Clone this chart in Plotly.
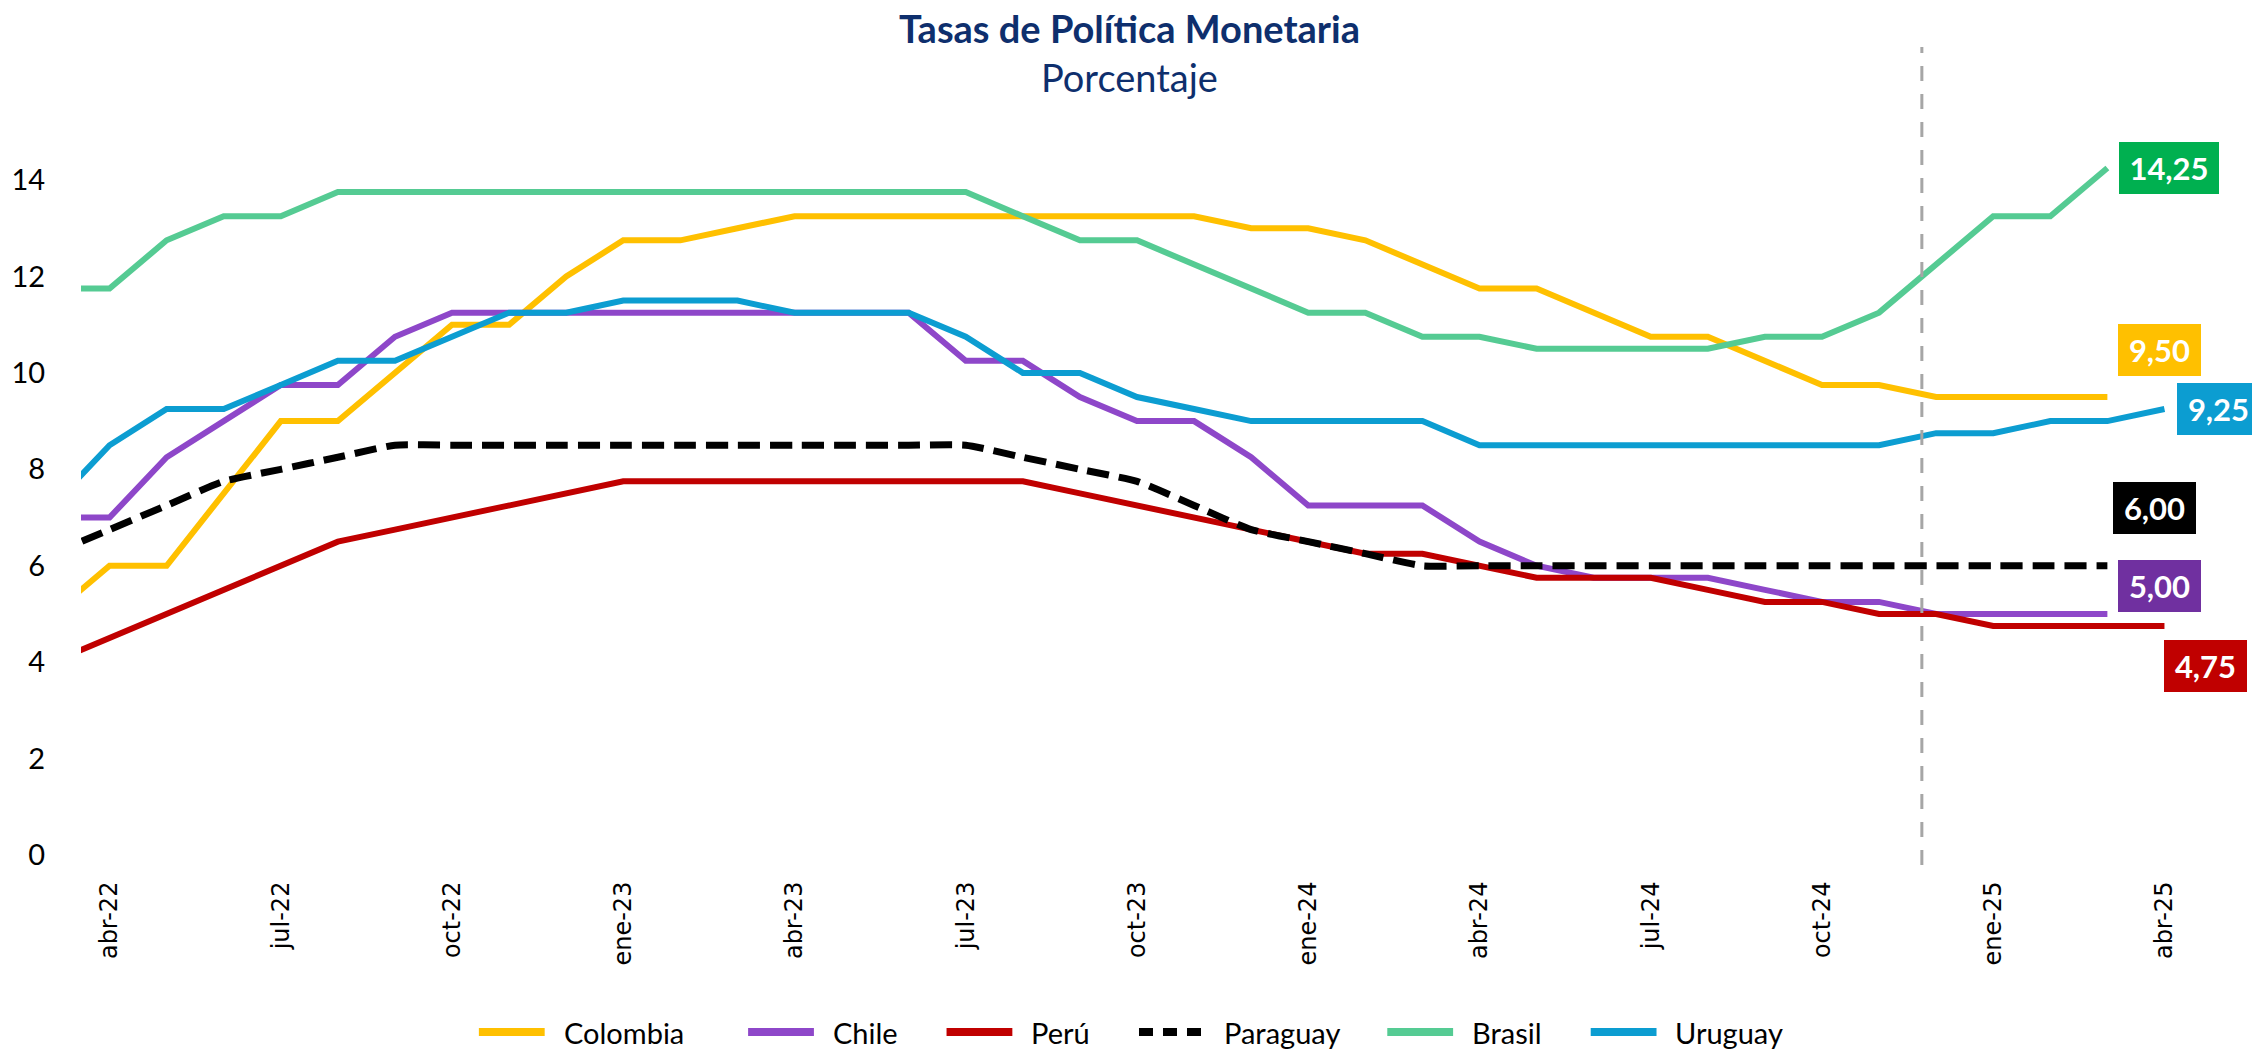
import plotly.graph_objects as go

# ---------------- DATA ----------------
months = ["mar-22", "abr-22", "may-22", "jun-22", "jul-22", "ago-22", "sep-22", "oct-22", "nov-22", "dic-22",
          "ene-23", "feb-23", "mar-23", "abr-23", "may-23", "jun-23", "jul-23", "ago-23", "sep-23", "oct-23",
          "nov-23", "dic-23",
          "ene-24", "feb-24", "mar-24", "abr-24", "may-24", "jun-24", "jul-24", "ago-24", "sep-24", "oct-24",
          "nov-24", "dic-24",
          "ene-25", "feb-25", "mar-25", "abr-25"]

tick_labels = ["abr-22", "jul-22", "oct-22", "ene-23", "abr-23", "jul-23", "oct-23",
               "ene-24", "abr-24", "jul-24", "oct-24", "ene-25", "abr-25"]

colombia = [5.0, 6.0, 6.0, 7.5, 9.0, 9.0, 10.0, 11.0, 11.0, 12.0,
            12.75, 12.75, 13.0, 13.25, 13.25, 13.25, 13.25, 13.25, 13.25, 13.25, 13.25, 13.0,
            13.0, 12.75, 12.25, 11.75, 11.75, 11.25, 10.75, 10.75, 10.25, 9.75, 9.75, 9.5,
            9.5, 9.5, 9.5, None]

chile = [7.0, 7.0, 8.25, 9.0, 9.75, 9.75, 10.75, 11.25, 11.25, 11.25,
         11.25, 11.25, 11.25, 11.25, 11.25, 11.25, 10.25, 10.25, 9.5, 9.0, 9.0, 8.25,
         7.25, 7.25, 7.25, 6.5, 6.0, 5.75, 5.75, 5.75, 5.5, 5.25, 5.25, 5.0,
         5.0, 5.0, 5.0, None]

peru = [4.0, 4.5, 5.0, 5.5, 6.0, 6.5, 6.75, 7.0, 7.25, 7.5,
        7.75, 7.75, 7.75, 7.75, 7.75, 7.75, 7.75, 7.75, 7.5, 7.25, 7.0, 6.75,
        6.5, 6.25, 6.25, 6.0, 5.75, 5.75, 5.75, 5.5, 5.25, 5.25, 5.0, 5.0,
        4.75, 4.75, 4.75, 4.75]

paraguay = [6.25, 6.75, 7.25, 7.75, 8.0, 8.25, 8.5, 8.5, 8.5, 8.5,
            8.5, 8.5, 8.5, 8.5, 8.5, 8.5, 8.5, 8.25, 8.0, 7.75, 7.25, 6.75,
            6.5, 6.25, 6.0, 6.0, 6.0, 6.0, 6.0, 6.0, 6.0, 6.0, 6.0, 6.0,
            6.0, 6.0, 6.0, None]

brasil = [11.75, 11.75, 12.75, 13.25, 13.25, 13.75, 13.75, 13.75, 13.75, 13.75,
          13.75, 13.75, 13.75, 13.75, 13.75, 13.75, 13.75, 13.25, 12.75, 12.75, 12.25, 11.75,
          11.25, 11.25, 10.75, 10.75, 10.5, 10.5, 10.5, 10.5, 10.75, 10.75, 11.25, 12.25,
          13.25, 13.25, 14.25, None]

uruguay = [7.25, 8.5, 9.25, 9.25, 9.75, 10.25, 10.25, 10.75, 11.25, 11.25,
           11.5, 11.5, 11.5, 11.25, 11.25, 11.25, 10.75, 10.0, 10.0, 9.5, 9.25, 9.0,
           9.0, 9.0, 9.0, 8.5, 8.5, 8.5, 8.5, 8.5, 8.5, 8.5, 8.5, 8.75,
           8.75, 9.0, 9.0, 9.25]

series_names = ["Colombia", "Chile", "Perú", "Paraguay", "Brasil", "Uruguay"]
series_values = [colombia, chile, peru, paraguay, brasil, uruguay]

# ---------------- STYLE / LAYOUT ----------------
line_colors = {"Colombia": "#FFC000", "Chile": "#8E47C9", "Perú": "#C00000",
               "Paraguay": "#000000", "Brasil": "#55CB93", "Uruguay": "#0C9DD1"}
box_colors = {"Colombia": "#FFC000", "Chile": "#7030A0", "Perú": "#C00000",
              "Paraguay": "#000000", "Brasil": "#00B050", "Uruguay": "#0C9DD1"}
# (xshift, yshift, box width) of end-value labels, in pixels
label_pos = {"Colombia": (52, 47, 83), "Chile": (52, 28, 83), "Perú": (41, -40, 83),
             "Paraguay": (47, 58, 83), "Brasil": (62, 0, 100), "Uruguay": (54, 0, 83)}
legend_px = [470, 740, 939, 1132, 1381, 1585]

W, H = 2252, 1049
L, R, T, B = 75, 59, 47, 194
pw, ph = W - L - R, H - T - B
Y_TOP = 16.76


def xp(px):
    return (px - L) / pw


def yp(py):
    return (H - B - py) / ph


navy = "#0E2F6D"
base_font = "Lato, 'Gill Sans MT', 'Gill Sans', sans-serif"

fig = go.Figure()

for name, vals in zip(series_names, series_values):
    dashed = name == "Paraguay"
    fig.add_trace(go.Scatter(
        x=months, y=vals, name=name, mode="lines",
        line=dict(color=line_colors[name], width=7 if dashed else 6,
                  dash="22px,10px" if dashed else "solid",
                  shape="spline" if dashed else "linear",
                  smoothing=0.5 if dashed else None),
        showlegend=False, connectgaps=False,
    ))

# end-value labels
annotations = []
for name, vals in zip(series_names, series_values):
    idx = max(i for i, v in enumerate(vals) if v is not None)
    v = vals[idx]
    xs, ys, bw = label_pos[name]
    annotations.append(dict(
        x=months[idx], y=v, xref="x", yref="y",
        text=f"{v:.2f}".replace(".", ","), showarrow=False,
        xshift=xs, yshift=ys, xanchor="center", yanchor="middle",
        width=bw, height=52, align="center", valign="middle",
        bgcolor=box_colors[name], borderpad=0, borderwidth=0,
        font=dict(family=base_font, size=31, color="white", weight="bold"),
    ))

# title
annotations.append(dict(x=xp(1126), y=yp(28), xref="paper", yref="paper",
                        text="<b>Tasas de Política Monetaria</b>", showarrow=False,
                        xanchor="center", yanchor="middle",
                        font=dict(family=base_font, size=38, color=navy)))
annotations.append(dict(x=xp(1126), y=yp(77), xref="paper", yref="paper",
                        text="Porcentaje", showarrow=False,
                        xanchor="center", yanchor="middle",
                        font=dict(family=base_font, size=38, color=navy)))

shapes = []
# vertical dashed marker between nov-24 and dic-24
vx = months.index("nov-24") + 0.75
shapes.append(dict(type="line", xref="x", yref="paper", x0=vx, x1=vx,
                   y0=yp(865), y1=1.0,
                   line=dict(color="#A6A6A6", width=3, dash="15px,13px")))

# custom legend
ly = yp(1032)
for name, lx in zip(series_names, legend_px):
    dashed = name == "Paraguay"
    shapes.append(dict(type="line", xref="paper", yref="paper",
                       x0=xp(lx + 4), x1=xp(lx + 70), y0=ly, y1=ly,
                       line=dict(color=line_colors[name], width=8,
                                 dash="14px,10px" if dashed else "solid")))
    annotations.append(dict(x=xp(lx + 87), y=ly, xref="paper", yref="paper",
                            text=name, showarrow=False, xanchor="left", yanchor="middle",
                            font=dict(family=base_font, size=29, color="black")))

fig.update_layout(
    width=W, height=H,
    margin=dict(l=L, r=R, t=T, b=B, pad=0),
    paper_bgcolor="white", plot_bgcolor="white",
    font=dict(family=base_font, color="black"),
    showlegend=False,
    annotations=annotations,
    shapes=shapes,
    xaxis=dict(type="category", categoryorder="array", categoryarray=months,
               range=[0.5, len(months) - 0.5],
               tickmode="array", tickvals=tick_labels, ticktext=tick_labels,
               tickangle=-90, ticks="outside", ticklen=16, tickcolor="rgba(0,0,0,0)",
               tickfont=dict(family="'DejaVu Sans', Verdana, sans-serif", size=24, color="black"),
               showgrid=False, zeroline=False, showline=False),
    yaxis=dict(range=[0, Y_TOP], tickmode="array", tickvals=[0, 2, 4, 6, 8, 10, 12, 14],
               ticks="outside", ticklen=29, tickcolor="rgba(0,0,0,0)",
               tickfont=dict(family=base_font, size=29, color="black"),
               showgrid=False, zeroline=False, showline=False),
)

fig.write_html("out.html", config={"displayModeBar": False},
               post_script="document.body.style.margin='0';document.body.style.overflow='hidden';")
